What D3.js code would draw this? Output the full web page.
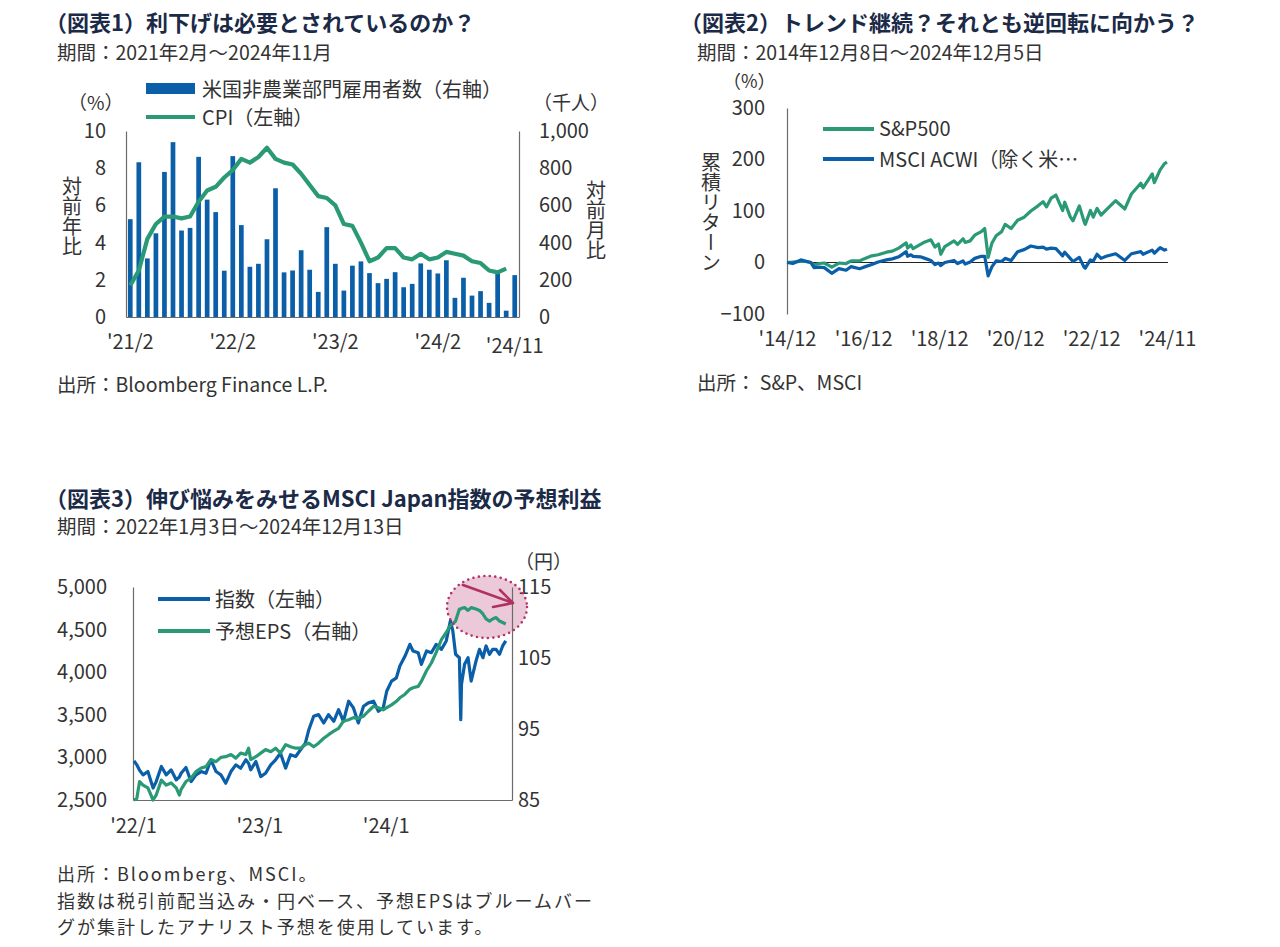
<!DOCTYPE html>
<html><head><meta charset="utf-8">
<script src="https://cdn.jsdelivr.net/npm/d3@7"></script>
<style>
body{margin:0;background:#fff}
svg text{font-family:"Noto Sans CJK JP","Noto Sans",sans-serif;}
</style>
</head><body>
<svg id="c" width="1280" height="947"></svg>
<script>
// ---------- Chart 1 data ----------
const c1Months = ["2021-02","2021-03","2021-04","2021-05","2021-06","2021-07","2021-08","2021-09","2021-10","2021-11","2021-12",
 "2022-01","2022-02","2022-03","2022-04","2022-05","2022-06","2022-07","2022-08","2022-09","2022-10","2022-11","2022-12",
 "2023-01","2023-02","2023-03","2023-04","2023-05","2023-06","2023-07","2023-08","2023-09","2023-10","2023-11","2023-12",
 "2024-01","2024-02","2024-03","2024-04","2024-05","2024-06","2024-07","2024-08","2024-09","2024-10","2024-11"];
const c1Payrolls = [526,832,315,450,780,940,465,479,861,631,564,
 249,865,494,270,286,418,692,240,250,359,254,135,
 483,286,142,276,299,236,182,205,241,160,178,288,
 254,234,305,103,211,115,139,76,238,34,225];
const c1CPI = [1.7,2.5,4.2,5.0,5.4,5.4,5.3,5.4,6.2,6.8,7.0,
 7.5,7.9,8.5,8.3,8.6,9.1,8.5,8.3,8.2,7.7,7.1,6.5,
 6.4,6.0,5.0,4.9,4.0,3.0,3.2,3.7,3.7,3.2,3.1,3.4,
 3.1,3.2,3.5,3.4,3.3,3.0,2.9,2.5,2.4,2.6,null];
const c1TickMonths = ["2021-02","2022-02","2023-02","2024-02","2024-11"];
const c1TickLabels = ["'21/2","'22/2","'23/2","'24/2","'24/11"];
const c1LeftTicks = [0,2,4,6,8,10];
const c1RightTicks = [0,200,400,600,800,1000];

// ---------- Chart 2 data ----------
const c2Dates = ["2014-12-08","2015-02-01","2015-04-20","2015-06-01","2015-07-25","2015-08-25","2015-10-15","2015-12-01",
 "2016-02-11","2016-04-20","2016-06-27","2016-08-15","2016-11-04","2016-12-15","2017-03-01","2017-05-01","2017-07-20",
 "2017-09-15","2017-11-15","2018-01-26","2018-02-08","2018-03-12","2018-04-02","2018-06-12","2018-07-25","2018-09-20",
 "2018-10-29","2018-12-03","2018-12-24","2019-02-01","2019-04-30","2019-06-03","2019-07-26","2019-08-15","2019-10-02",
 "2019-11-15","2020-01-17","2020-02-19","2020-03-23","2020-04-29","2020-06-08","2020-07-31","2020-09-02","2020-10-30",
 "2020-12-31","2021-03-04","2021-05-07","2021-07-15","2021-09-02","2021-10-04","2021-11-18","2022-01-03","2022-03-08",
 "2022-03-29","2022-05-20","2022-06-16","2022-08-16","2022-09-30","2022-10-12","2022-11-30","2022-12-28","2023-02-02",
 "2023-03-13","2023-05-01","2023-07-31","2023-10-27","2023-12-29","2024-03-28","2024-04-19","2024-07-16","2024-08-05",
 "2024-09-30","2024-11-11","2024-12-05"];
const c2SP500 = [0,1,2,2,0,-5,-2,-1,
 -9,-1,-2,3,3,7,13,15,20,
 22,28,38,28,34,27,35,40,44,
 30,36,16,31,42,35,46,39,42,
 53,60,66,10,38,52,60,74,66,
 82,88,100,110,118,108,125,131,101,
 117,89,81,110,80,74,101,88,105,
 92,102,120,104,133,154,145,172,155,
 180,192,195];
const c2ACWIxUS = [0,-2,5,3,0,-10,-9,-10,
 -21,-12,-15,-8,-12,-9,-4,1,5,
 7,11,21,12,15,12,11,8,4,
 -4,-1,-6,0,4,-2,3,-3,1,
 8,12,12,-26,-8,3,2,8,4,
 21,25,32,29,30,26,28,27,13,
 20,8,2,10,-9,-11,5,3,16,
 8,12,17,4,17,21,16,24,18,
 29,24,26];
const c2TickDates = ["2014-12-08","2016-12-08","2018-12-08","2020-12-08","2022-12-08","2024-12-05"];
const c2TickLabels = ["'14/12","'16/12","'18/12","'20/12","'22/12","'24/11"];
const c2YTicks = [-100,0,100,200,300];

// ---------- Chart 3 data ----------
const c3Dates = ["2022-01-04","2022-01-12","2022-01-20","2022-01-30","2022-02-13","2022-02-28","2022-03-09","2022-03-24",
 "2022-04-07","2022-04-21","2022-05-06","2022-05-15","2022-05-20","2022-06-03","2022-06-18","2022-07-02","2022-07-17",
 "2022-07-31","2022-08-14","2022-08-29","2022-09-12","2022-09-26","2022-10-11","2022-10-25","2022-11-08","2022-11-23",
 "2022-12-01","2022-12-07","2022-12-22","2023-01-05","2023-01-19","2023-02-03","2023-02-17","2023-03-03","2023-03-18",
 "2023-04-01","2023-04-16","2023-04-30","2023-05-14","2023-05-24","2023-06-07","2023-06-21","2023-07-06","2023-07-20",
 "2023-08-04","2023-08-18","2023-09-01","2023-09-16","2023-09-30","2023-10-14","2023-10-29","2023-11-12","2023-11-27",
 "2023-12-11","2023-12-25","2024-01-04","2024-01-18","2024-02-01","2024-02-11","2024-02-26","2024-03-11","2024-03-20",
 "2024-04-04","2024-04-13","2024-04-28","2024-05-12","2024-05-26","2024-06-10","2024-06-24","2024-07-06","2024-07-13",
 "2024-07-21","2024-08-01","2024-08-05","2024-08-07","2024-08-16","2024-08-26","2024-09-04","2024-09-18","2024-09-28",
 "2024-10-08","2024-10-17","2024-10-27","2024-11-05","2024-11-15","2024-11-25","2024-12-04","2024-12-13"];
const c3Index = [2960,2913,2850,2795,2834,2640,2716,2893,
 2795,2854,2736,2770,2814,2881,2716,2795,2834,
 2814,2972,2834,2795,2697,2834,2913,2873,2972,
 2930,2854,2952,2775,2814,2913,2972,3050,2873,
 3031,3011,3090,3168,3325,3483,3502,3404,3502,
 3424,3561,3424,3659,3581,3404,3600,3640,3659,
 3541,3581,3777,3895,3934,4072,4190,4327,4249,
 4229,4092,4249,4229,4327,4268,4367,4603,4485,
 4210,4170,3443,3856,4092,4170,3895,4131,4268,
 4170,4308,4210,4268,4268,4210,4308,4367];
const c3EPS = [85.0,85.2,87.6,87.1,86.7,85.0,85.7,87.8,
 87.1,87.4,86.7,85.7,86.5,87.6,88.1,89.0,89.5,
 89.7,90.7,90.4,91.0,91.1,91.4,90.9,91.6,91.4,
 92.3,90.7,91.1,91.6,92.1,91.8,92.3,91.6,92.8,
 92.5,92.3,92.3,92.8,93.0,92.5,93.0,93.7,94.2,
 94.7,95.1,96.1,96.3,96.6,96.5,96.8,97.5,98.2,
 98.0,97.7,98.0,98.4,98.9,99.4,99.9,100.6,100.8,
 101.0,101.7,103.2,104.3,105.8,107.6,108.6,109.6,109.8,
 110.2,111.9,111.9,112.0,112.1,111.7,112.1,111.9,111.7,
 111.2,110.5,110.2,110.5,110.7,110.2,110.0,109.8];
const c3TickDates = ["2022-01-01","2023-01-01","2024-01-01"];
const c3TickLabels = ["'22/1","'23/1","'24/1"];
const c3LeftTicks = [2500,3000,3500,4000,4500,5000];
const c3RightTicks = [85,95,105,115];
const c3SourceLines = ["出所：Bloomberg、MSCI。",
 "指数は税引前配当込み・円ベース、予想EPSはブルームバー",
 "グが集計したアナリスト予想を使用しています。"];

// ---------- drawing ----------
const svg = d3.select("#c");
const BLUE = "#0b5ea8", GREEN = "#2a9a76", NAVY = "#1b2a47", TXT = "#333333", AX = "#6b6b6b";
const parse = d3.timeParse("%Y-%m-%d");

function txt(x, y, t, size, opts = {}) {
  return svg.append("text").attr("x", x).attr("y", y)
    .attr("font-size", size).attr("fill", opts.fill || TXT)
    .attr("dominant-baseline", "central")
    .attr("text-anchor", opts.anchor || "start")
    .attr("font-weight", opts.weight || 400).text(t);
}
function vtxt(x, y, t, size) {
  return svg.append("text").attr("x", x).attr("y", y).attr("font-size", size)
    .attr("fill", TXT).style("writing-mode", "vertical-rl").text(t);
}
function styleAxis(g, size) {
  g.select(".domain").attr("stroke", AX).attr("stroke-width", 1.2);
  g.selectAll("text").attr("font-size", size).attr("fill", TXT)
    .attr("font-family", '"Noto Sans CJK JP","Noto Sans",sans-serif');
}

// ===== Chart 1 =====
txt(45, 21, "（図表1）利下げは必要とされているのか？", 22, {fill: NAVY, weight: 700});
txt(57, 51, "期間：2021年2月～2024年11月", 19.5);

const x1 = d3.scaleBand().domain(c1Months).range([126, 519]).paddingInner(0.45).paddingOuter(0.225);
const y1L = d3.scaleLinear().domain([0, 10]).range([317, 131]);
const y1R = d3.scaleLinear().domain([0, 1000]).range([317, 131]);

svg.append("g").selectAll("rect").data(c1Payrolls).join("rect")
  .attr("x", (d, i) => x1(c1Months[i])).attr("width", x1.bandwidth())
  .attr("y", d => y1R(d)).attr("height", d => y1R(0) - y1R(d)).attr("fill", BLUE);

const gL1 = svg.append("g").attr("transform", "translate(126,0)")
  .call(d3.axisLeft(y1L).tickValues(c1LeftTicks).tickSize(0).tickSizeOuter(0).tickPadding(20));
styleAxis(gL1, 20);
const gR1 = svg.append("g").attr("transform", "translate(519,0)")
  .call(d3.axisRight(y1R).tickValues(c1RightTicks).tickFormat(d3.format(",")).tickSize(0).tickSizeOuter(0).tickPadding(20));
styleAxis(gR1, 20);
const gB1 = svg.append("g").attr("transform", "translate(0,317)")
  .call(d3.axisBottom(x1).tickValues(c1TickMonths)
    .tickFormat(m => c1TickLabels[c1TickMonths.indexOf(m)]).tickSize(0).tickSizeOuter(0).tickPadding(18));
styleAxis(gB1, 20);
gB1.selectAll(".tick").filter(m => m === "2024-11").select("text").attr("y", 22);

const line1 = d3.line().defined(d => d != null)
  .x((d, i) => x1(c1Months[i]) + x1.bandwidth() / 2).y(d => y1L(d));
svg.append("path").datum(c1CPI).attr("d", line1).attr("fill", "none")
  .attr("stroke", GREEN).attr("stroke-width", 4.2).attr("stroke-linejoin", "round");

// legend 1
svg.append("rect").attr("x", 146).attr("y", 83).attr("width", 49).attr("height", 11).attr("fill", BLUE);
txt(202, 88, "米国非農業部門雇用者数（右軸）", 20);
svg.append("line").attr("x1", 146).attr("x2", 195).attr("y1", 117).attr("y2", 117)
  .attr("stroke", GREEN).attr("stroke-width", 4);
txt(202, 116, "CPI（左軸）", 20);
txt(68, 101, "（%）", 19);
txt(533, 101, "（千人）", 19);
vtxt(72, 176, "対前年比", 20);
vtxt(596, 180, "対前月比", 20);
txt(57, 383, "出所：Bloomberg Finance L.P.", 19.5);

// ===== Chart 2 =====
txt(680, 21, "（図表2）トレンド継続？それとも逆回転に向かう？", 22, {fill: NAVY, weight: 700});
txt(697, 51, "期間：2014年12月8日～2024年12月5日", 19.5);

const x2 = d3.scaleTime().domain([parse("2014-12-08"), parse("2024-12-05")]).range([787, 1167]);
const y2 = d3.scaleLinear().domain([-100, 300]).range([314, 108]);
const gL2 = svg.append("g").attr("transform", "translate(787,0)")
  .call(d3.axisLeft(y2).tickValues(c2YTicks).tickSize(0).tickSizeOuter(0).tickPadding(22));
styleAxis(gL2, 20);
svg.append("line").attr("x1", 787).attr("x2", 1168).attr("y1", y2(0)).attr("y2", y2(0))
  .attr("stroke", "#222").attr("stroke-width", 1);
const gB2 = svg.append("g").attr("transform", "translate(0,314)")
  .call(d3.axisBottom(x2).tickValues(c2TickDates.map(parse))
    .tickFormat((d, i) => c2TickLabels[i]).tickSize(0).tickSizeOuter(0).tickPadding(18));
styleAxis(gB2, 20);
gB2.select(".domain").remove();

const line2 = (vals) => d3.line().x((d, i) => x2(parse(c2Dates[i]))).y(d => y2(d))(vals);
svg.append("path").attr("d", line2(c2SP500)).attr("fill", "none").attr("stroke", GREEN)
  .attr("stroke-width", 3.2).attr("stroke-linejoin", "round");
svg.append("path").attr("d", line2(c2ACWIxUS)).attr("fill", "none").attr("stroke", BLUE)
  .attr("stroke-width", 3.2).attr("stroke-linejoin", "round");

svg.append("line").attr("x1", 823).attr("x2", 874).attr("y1", 129).attr("y2", 129).attr("stroke", GREEN).attr("stroke-width", 4);
txt(879, 127, "S&P500", 20);
svg.append("line").attr("x1", 823).attr("x2", 874).attr("y1", 159).attr("y2", 159).attr("stroke", BLUE).attr("stroke-width", 4);
txt(879, 158, "MSCI ACWI（除く米…", 20);
txt(723, 80, "（%）", 18);
vtxt(711, 152, "累積リターン", 20);
txt(697, 381, "出所： S&P、MSCI", 19.5);

// ===== Chart 3 =====
txt(45, 497, "（図表3）伸び悩みをみせるMSCI Japan指数の予想利益", 22, {fill: NAVY, weight: 700});
txt(57, 525, "期間：2022年1月3日～2024年12月13日", 19.5);

const x3 = d3.scaleTime().domain([parse("2022-01-01"), parse("2024-12-31")]).range([133, 512]);
const y3L = d3.scaleLinear().domain([2500, 5000]).range([800, 587]);
const y3R = d3.scaleLinear().domain([85, 115]).range([800, 587]);

// highlight ellipse (under lines)
svg.append("ellipse").attr("cx", 487).attr("cy", 607).attr("rx", 40).attr("ry", 31)
  .attr("fill", "#ecc9d8");

const gL3 = svg.append("g").attr("transform", "translate(133,0)")
  .call(d3.axisLeft(y3L).tickValues(c3LeftTicks).tickFormat(d3.format(",")).tickSize(0).tickSizeOuter(0).tickPadding(26));
styleAxis(gL3, 20);
const gR3 = svg.append("g").attr("transform", "translate(512,0)")
  .call(d3.axisRight(y3R).tickValues(c3RightTicks).tickSize(0).tickSizeOuter(0).tickPadding(6));
styleAxis(gR3, 20);
const gB3 = svg.append("g").attr("transform", "translate(0,800)")
  .call(d3.axisBottom(x3).tickValues(c3TickDates.map(parse))
    .tickFormat((d, i) => c3TickLabels[i]).tickSize(0).tickSizeOuter(0).tickPadding(19));
styleAxis(gB3, 20);

svg.append("path").attr("d", d3.line().x((d, i) => x3(parse(c3Dates[i]))).y(d => y3L(d))(c3Index))
  .attr("fill", "none").attr("stroke", BLUE).attr("stroke-width", 3.2).attr("stroke-linejoin", "round");
svg.append("path").attr("d", d3.line().x((d, i) => x3(parse(c3Dates[i]))).y(d => y3R(d))(c3EPS))
  .attr("fill", "none").attr("stroke", GREEN).attr("stroke-width", 3.2).attr("stroke-linejoin", "round");

svg.append("ellipse").attr("cx", 487).attr("cy", 607).attr("rx", 40).attr("ry", 31)
  .attr("fill", "none").attr("stroke", "#b8336a").attr("stroke-width", 2.6)
  .attr("stroke-dasharray", "0 5.5").attr("stroke-linecap", "round");
svg.append("path").attr("d", "M463,585 L513,603 M493,607 L513,603 L500,590")
  .attr("fill", "none").attr("stroke", "#b0335f").attr("stroke-width", 2.6)
  .attr("stroke-linecap", "round").attr("stroke-linejoin", "round");

svg.append("line").attr("x1", 158).attr("x2", 210).attr("y1", 599).attr("y2", 599).attr("stroke", BLUE).attr("stroke-width", 4);
txt(215, 598, "指数（左軸）", 20);
svg.append("line").attr("x1", 158).attr("x2", 210).attr("y1", 631).attr("y2", 631).attr("stroke", GREEN).attr("stroke-width", 4);
txt(215, 630, "予想EPS（右軸）", 20);
txt(515, 560, "（円）", 19);

// source note, three wrapped lines
c3SourceLines.forEach((l, i) => {
  txt(57, 873 + i * 26.5, l, 18).attr("letter-spacing", 2);
});
</script>
</body></html>
